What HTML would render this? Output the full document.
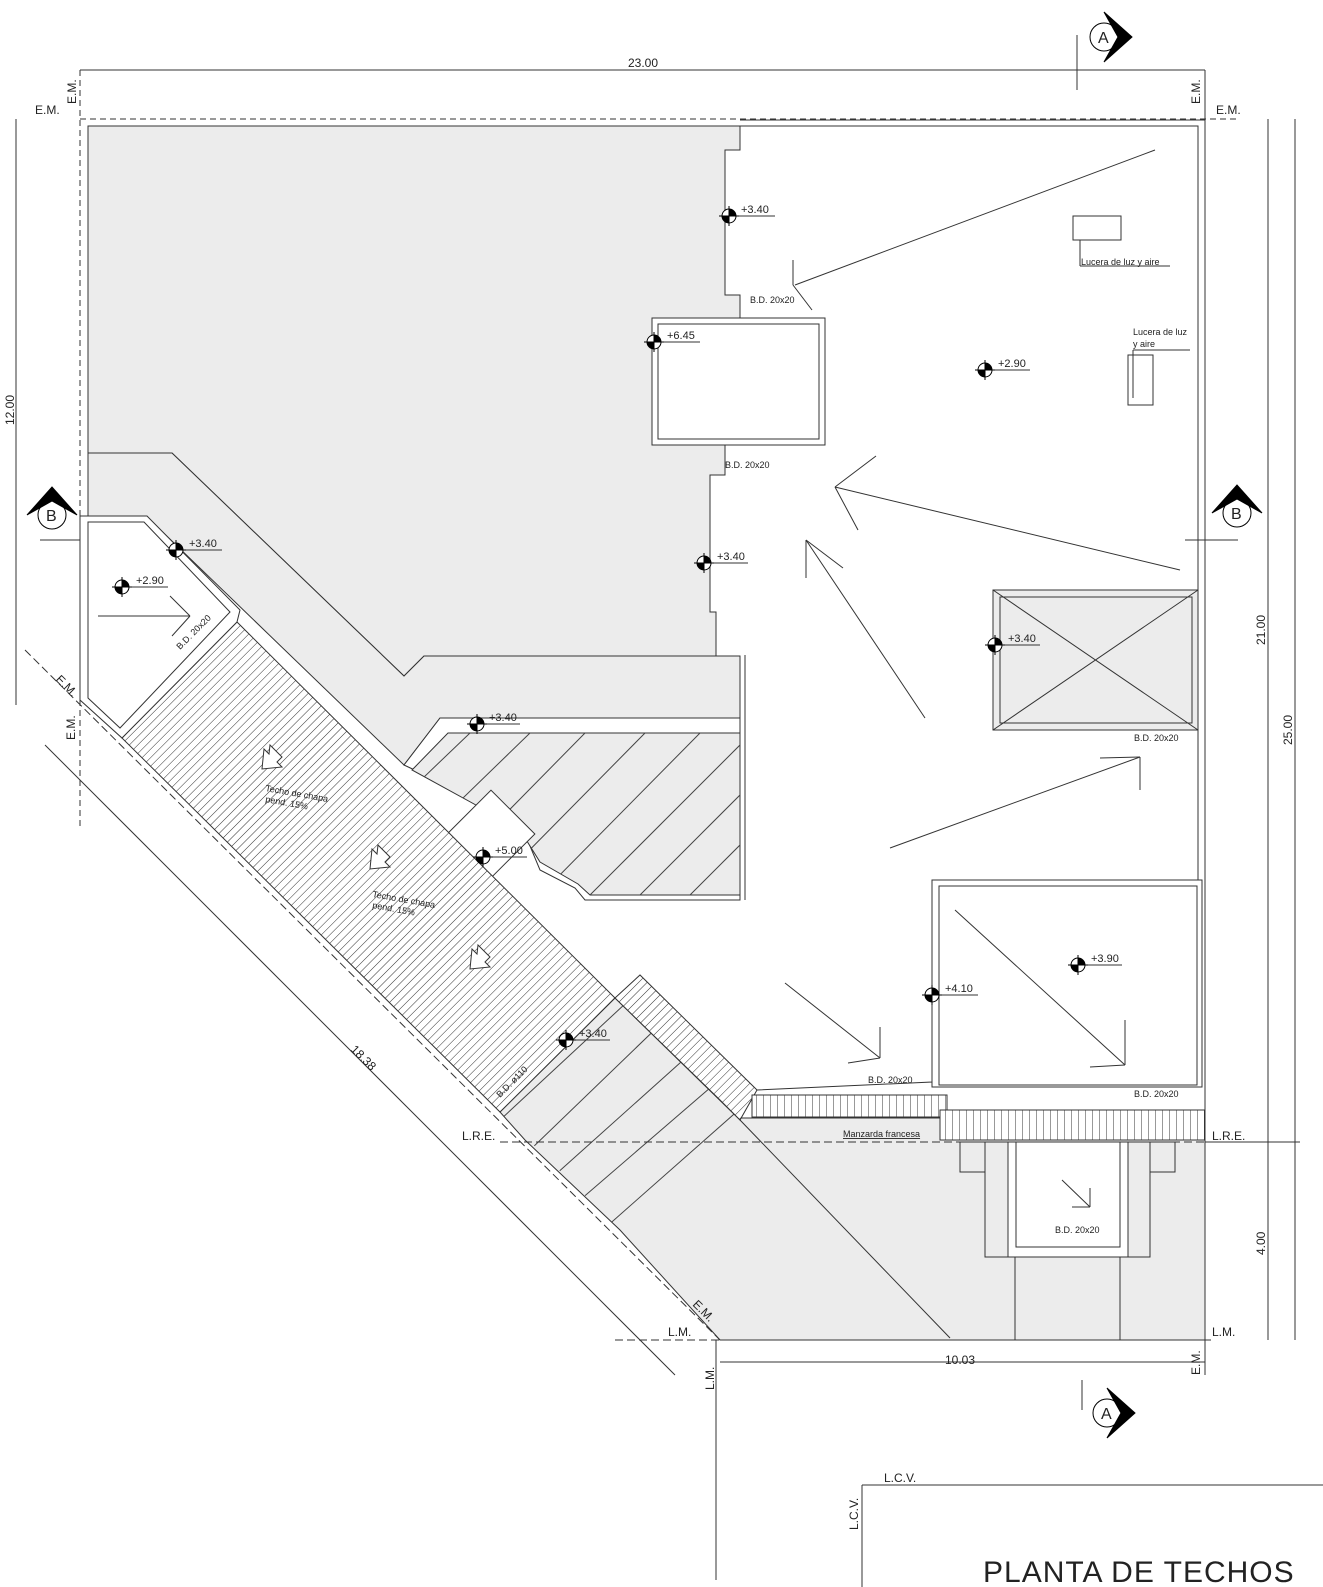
<!DOCTYPE html>
<html><head><meta charset="utf-8"><style>
html,body{margin:0;padding:0;background:#fff}
svg{display:block}
text{font-family:"Liberation Sans",sans-serif;fill:#222}
</style></head><body>
<svg width="1323" height="1587" viewBox="0 0 1323 1587" xmlns="http://www.w3.org/2000/svg">
<defs>
<pattern id="h" width="6" height="6" patternUnits="userSpaceOnUse" patternTransform="rotate(45)"><rect width="6" height="6" fill="#fff"/><line x1="0" y1="0" x2="0" y2="6" stroke="#333" stroke-width="1"/></pattern>
<pattern id="v" width="7" height="7" patternUnits="userSpaceOnUse"><rect width="7" height="7" fill="#fff"/><line x1="0" y1="0" x2="0" y2="7" stroke="#333" stroke-width="1"/></pattern>
<clipPath id="cs"><path d="M412,770 L448,733 L740,733 L740,895 L590,895 L578,884 L540,862 L520,830 L485,810Z"/></clipPath>
<clipPath id="cs2"><path d="M500,1112 L615,998 L740,1120 L640,1230 L620,1230Z"/></clipPath>
<g id="el"><circle r="7" fill="#fff" stroke="#000"/><path d="M0,0 L0,-7 A7,7 0 0 1 7,0Z M0,0 L0,7 A7,7 0 0 1 -7,0Z" fill="#000"/><line x1="-10" y1="0" x2="10" y2="0" stroke="#000"/><line x1="0" y1="-10" x2="0" y2="10" stroke="#000"/></g>
</defs>
<g stroke="#333" stroke-width="1" fill="none">
<path d="M88,126 L740,126 L740,150 L725,150 L725,295 L740,295 L740,318 L652,318 L652,445 L725,445 L725,475 L710,475 L710,612 L716,612 L716,656 L424,656 L404,676 L172,453 L88,453Z" fill="#ececec"/>
<path d="M147,517 L404,765 L440,718 L740,718 L740,656 L716,656 L424,656 L404,676 L172,453 L88,453 L88,517Z" fill="#ececec"/>
<path d="M404,765 L440,718 L740,718 L740,900 L585,900 L575,888 L540,870 L520,822 L485,803 Z" fill="#fff"/>
<path d="M412,770 L448,733 L740,733 L740,895 L590,895 L578,884 L540,862 L520,830 L485,810Z" fill="#ececec"/>
<g stroke="#444" clip-path="url(#cs)">
<line x1="400" y1="800" x2="470" y2="733"/><line x1="430" y1="830" x2="530" y2="733"/><line x1="460" y1="860" x2="585" y2="733"/>
<line x1="500" y1="880" x2="645" y2="733"/><line x1="545" y1="890" x2="700" y2="733"/><line x1="590" y1="895" x2="750" y2="735"/>
<line x1="640" y1="895" x2="750" y2="785"/><line x1="690" y1="895" x2="750" y2="835"/>
</g>
<path d="M500,1112 L615,998 L740,1120 L740,1118 L1205,1118 L1205,1340 L720,1340 L620,1230 L525,1140Z" fill="#ececec"/>
<g stroke="#444" clip-path="url(#cs2)">
<line x1="500" y1="1120" x2="640" y2="990"/><line x1="530" y1="1150" x2="670" y2="1015"/><line x1="555" y1="1175" x2="700" y2="1045"/><line x1="580" y1="1200" x2="725" y2="1075"/><line x1="605" y1="1228" x2="750" y2="1100"/>
</g>
<rect x="993" y="590" width="205" height="140" fill="#ececec"/>
<rect x="460" y="803" width="62" height="62" transform="rotate(45 491 834)" fill="#fff"/>
<path d="M122,738 L237,622 L615,998 L500,1112Z" fill="url(#h)"/>
<path d="M615,998 L640,975 L757,1090 L740,1120 L720,1100Z" fill="url(#h)"/>
<rect x="752" y="1095" width="195" height="22" fill="url(#v)"/>
<rect x="940" y="1110" width="265" height="30" fill="url(#v)"/>
<path d="M80,516 L147,516 L240,610 L237,622 L122,738 L80,700Z" fill="#fff"/>
<path d="M88,522 L144,522 L230,612 L120,728 L88,698Z"/>
<line x1="80" y1="70" x2="1205" y2="70"/>
<line x1="80" y1="119" x2="1240" y2="119" stroke-dasharray="6,4"/>
<line x1="740" y1="120" x2="1205" y2="120"/>
<line x1="80" y1="70" x2="80" y2="830" stroke-dasharray="6,4"/>
<line x1="1205" y1="70" x2="1205" y2="1375"/>
<line x1="16" y1="119" x2="16" y2="705"/>
<line x1="1268" y1="119" x2="1268" y2="1142"/>
<line x1="1295" y1="119" x2="1295" y2="1340"/>
<line x1="1268" y1="1142" x2="1268" y2="1340"/>
<line x1="1205" y1="1142" x2="1300" y2="1142"/>
<line x1="500" y1="1142" x2="1205" y2="1142" stroke-dasharray="8,4"/>
<line x1="615" y1="1340" x2="1215" y2="1340" stroke-dasharray="8,4"/>
<line x1="720" y1="1362" x2="1205" y2="1362"/>
<line x1="716" y1="1340" x2="716" y2="1580"/>
<line x1="45" y1="745" x2="675" y2="1375"/>
<line x1="25" y1="650" x2="720" y2="1340" stroke-dasharray="8,4"/>
<line x1="1077" y1="35" x2="1077" y2="90"/>
<line x1="1082" y1="1380" x2="1082" y2="1410"/>
<path d="M740,126 L1198,126 L1198,590 L993,590 L993,730 L1198,730 L1198,880 L932,880 L932,1082 L757,1090" />
<rect x="652" y="318" width="173" height="127" fill="#fff"/>
<rect x="658" y="324" width="161" height="115"/>
<path d="M745,655 L745,900"/>
<rect x="932" y="880" width="270" height="207" fill="#fff"/>
<rect x="939" y="886" width="258" height="199"/>
<line x1="993" y1="590" x2="1198" y2="730"/><line x1="1198" y1="590" x2="993" y2="730"/>
<rect x="1000" y="597" width="192" height="126"/>
<rect x="960" y="1142" width="215" height="30" fill="#ececec"/>
<rect x="985" y="1142" width="165" height="115" fill="#ececec"/>
<rect x="1008" y="1142" width="120" height="115" fill="#fff"/>
<rect x="1016" y="1142" width="104" height="105"/>
<line x1="1015" y1="1257" x2="1015" y2="1340"/><line x1="1120" y1="1257" x2="1120" y2="1340"/>
<line x1="740" y1="1120" x2="950" y2="1338"/>
<line x1="795" y1="285" x2="1155" y2="150"/><line x1="793" y1="260" x2="793" y2="285"/><line x1="793" y1="285" x2="812" y2="310"/>
<line x1="835" y1="487" x2="1180" y2="570"/><line x1="835" y1="487" x2="876" y2="456"/><line x1="835" y1="487" x2="858" y2="530"/>
<line x1="806" y1="540" x2="925" y2="718"/><line x1="806" y1="540" x2="806" y2="578"/><line x1="806" y1="540" x2="843" y2="568"/>
<line x1="890" y1="848" x2="1140" y2="757"/><line x1="1140" y1="757" x2="1140" y2="790"/><line x1="1140" y1="757" x2="1100" y2="758"/>
<line x1="785" y1="983" x2="880" y2="1058"/><line x1="880" y1="1058" x2="880" y2="1027"/><line x1="880" y1="1058" x2="848" y2="1063"/>
<line x1="955" y1="910" x2="1125" y2="1065"/><line x1="1125" y1="1065" x2="1125" y2="1020"/><line x1="1125" y1="1065" x2="1090" y2="1067"/>
<line x1="1062" y1="1180" x2="1090" y2="1207"/><line x1="1090" y1="1207" x2="1090" y2="1188"/><line x1="1090" y1="1207" x2="1072" y2="1207"/>
<line x1="98" y1="616" x2="190" y2="616"/><line x1="190" y1="616" x2="170" y2="596"/><line x1="190" y1="616" x2="172" y2="636"/>
<rect x="1073" y="216" width="48" height="24"/>
<rect x="1128" y="355" width="25" height="50"/>
<line x1="1080" y1="240" x2="1080" y2="266"/><line x1="1080" y1="266" x2="1170" y2="266"/>
<line x1="1133" y1="350" x2="1190" y2="350"/><line x1="1133" y1="350" x2="1133" y2="398"/>
<line x1="862" y1="1485" x2="1323" y2="1485"/>
<line x1="862" y1="1485" x2="862" y2="1587"/>
<line x1="729" y1="216" x2="775" y2="216"/><line x1="654" y1="342" x2="700" y2="342"/><line x1="985" y1="370" x2="1030" y2="370"/>
<line x1="176" y1="550" x2="222" y2="550"/><line x1="122" y1="587" x2="168" y2="587"/><line x1="704" y1="563" x2="748" y2="563"/>
<line x1="995" y1="645" x2="1040" y2="645"/><line x1="477" y1="724" x2="520" y2="724"/><line x1="483" y1="857" x2="527" y2="857"/>
<line x1="566" y1="1040" x2="610" y2="1040"/><line x1="932" y1="995" x2="978" y2="995"/><line x1="1078" y1="965" x2="1122" y2="965"/>
<line x1="40" y1="540" x2="80" y2="540"/><line x1="1185" y1="540" x2="1238" y2="540"/>
</g>
<g fill="#fff" stroke="#333">
<path d="M270,745 l12,12 -5,5 5,5 -20,2 2,-20 5,5Z"/>
<path d="M378,845 l12,12 -5,5 5,5 -20,2 2,-20 5,5Z"/>
<path d="M478,945 l12,12 -5,5 5,5 -20,2 2,-20 5,5Z"/>
</g>
<use href="#el" x="729" y="216"/><use href="#el" x="654" y="342"/><use href="#el" x="985" y="370"/>
<use href="#el" x="176" y="550"/><use href="#el" x="122" y="587"/><use href="#el" x="704" y="563"/>
<use href="#el" x="995" y="645"/><use href="#el" x="477" y="724"/><use href="#el" x="483" y="857"/>
<use href="#el" x="566" y="1040"/><use href="#el" x="932" y="995"/><use href="#el" x="1078" y="965"/>
<g font-size="11">
<text x="741" y="213">+3.40</text><text x="667" y="339">+6.45</text><text x="998" y="367">+2.90</text>
<text x="189" y="547">+3.40</text><text x="136" y="584">+2.90</text><text x="717" y="560">+3.40</text>
<text x="1008" y="642">+3.40</text><text x="489" y="721">+3.40</text><text x="495" y="854">+5.00</text>
<text x="579" y="1037">+3.40</text><text x="945" y="992">+4.10</text><text x="1091" y="962">+3.90</text>
</g>
<g font-size="9">
<text x="750" y="303">B.D. 20x20</text><text x="725" y="468">B.D. 20x20</text>
<text x="1134" y="741">B.D. 20x20</text><text x="868" y="1083">B.D. 20x20</text><text x="1134" y="1097">B.D. 20x20</text>
<text x="1055" y="1233">B.D. 20x20</text>
<text x="1081" y="265">Lucera de luz y aire</text>
<text x="1133" y="335">Lucera de luz</text><text x="1133" y="347">y aire</text>
<text x="843" y="1137" text-decoration="underline">Manzarda francesa</text>
<text x="180" y="650" transform="rotate(-45 180 650)">B.D. 20x20</text>
<text x="500" y="1098" transform="rotate(-45 500 1098)">B.D. ø110</text>
<text x="265" y="791" transform="rotate(10 265 791)">Techo de chapa</text><text x="265" y="802" transform="rotate(10 265 802)">pend. 15%</text>
<text x="372" y="897" transform="rotate(10 372 897)">Techo de chapa</text><text x="372" y="908" transform="rotate(10 372 908)">pend. 15%</text>
</g>
<g font-size="12">
<text x="628" y="67">23.00</text>
<text x="35" y="114">E.M.</text><text x="1216" y="114">E.M.</text>
<text x="76" y="104" transform="rotate(-90 76 104)">E.M.</text>
<text x="1200" y="104" transform="rotate(-90 1200 104)">E.M.</text>
<text x="14" y="425" transform="rotate(-90 14 425)">12.00</text>
<text x="1265" y="645" transform="rotate(-90 1265 645)">21.00</text>
<text x="1292" y="745" transform="rotate(-90 1292 745)">25.00</text>
<text x="1265" y="1255" transform="rotate(-90 1265 1255)">4.00</text>
<text x="945" y="1364">10.03</text>
<text x="1200" y="1375" transform="rotate(-90 1200 1375)">E.M.</text>
<text x="462" y="1140">L.R.E.</text><text x="1212" y="1140">L.R.E.</text>
<text x="668" y="1336">L.M.</text><text x="1212" y="1336">L.M.</text>
<text x="714" y="1390" transform="rotate(-90 714 1390)">L.M.</text>
<text x="350" y="1050" transform="rotate(45 350 1050)">18.38</text>
<text x="55" y="680" transform="rotate(45 55 680)">E.M.</text>
<text x="75" y="740" transform="rotate(-90 75 740)">E.M.</text>
<text x="692" y="1305" transform="rotate(45 692 1305)">E.M.</text>
<text x="884" y="1482">L.C.V.</text>
<text x="858" y="1530" transform="rotate(-90 858 1530)">L.C.V.</text>
</g>
<text x="983" y="1582" font-size="30" letter-spacing="1">PLANTA DE TECHOS</text>
<g stroke="#000" fill="#fff">
<circle cx="1104" cy="37" r="14"/><path d="M1104,12 L1132,37 L1104,62 L1118,37Z" fill="#000"/>
<circle cx="1107" cy="1413" r="14"/><path d="M1107,1388 L1135,1413 L1107,1438 L1121,1413Z" fill="#000"/>
<circle cx="52" cy="515" r="14"/><path d="M27,515 L52,487 L77,515 L52,501Z" fill="#000"/>
<circle cx="1237" cy="513" r="14"/><path d="M1212,513 L1237,485 L1262,513 L1237,499Z" fill="#000"/>
</g>
<g font-size="16"><text x="1098" y="43">A</text><text x="1101" y="1419">A</text><text x="46" y="521">B</text><text x="1231" y="519">B</text></g>
</svg>
</body></html>
